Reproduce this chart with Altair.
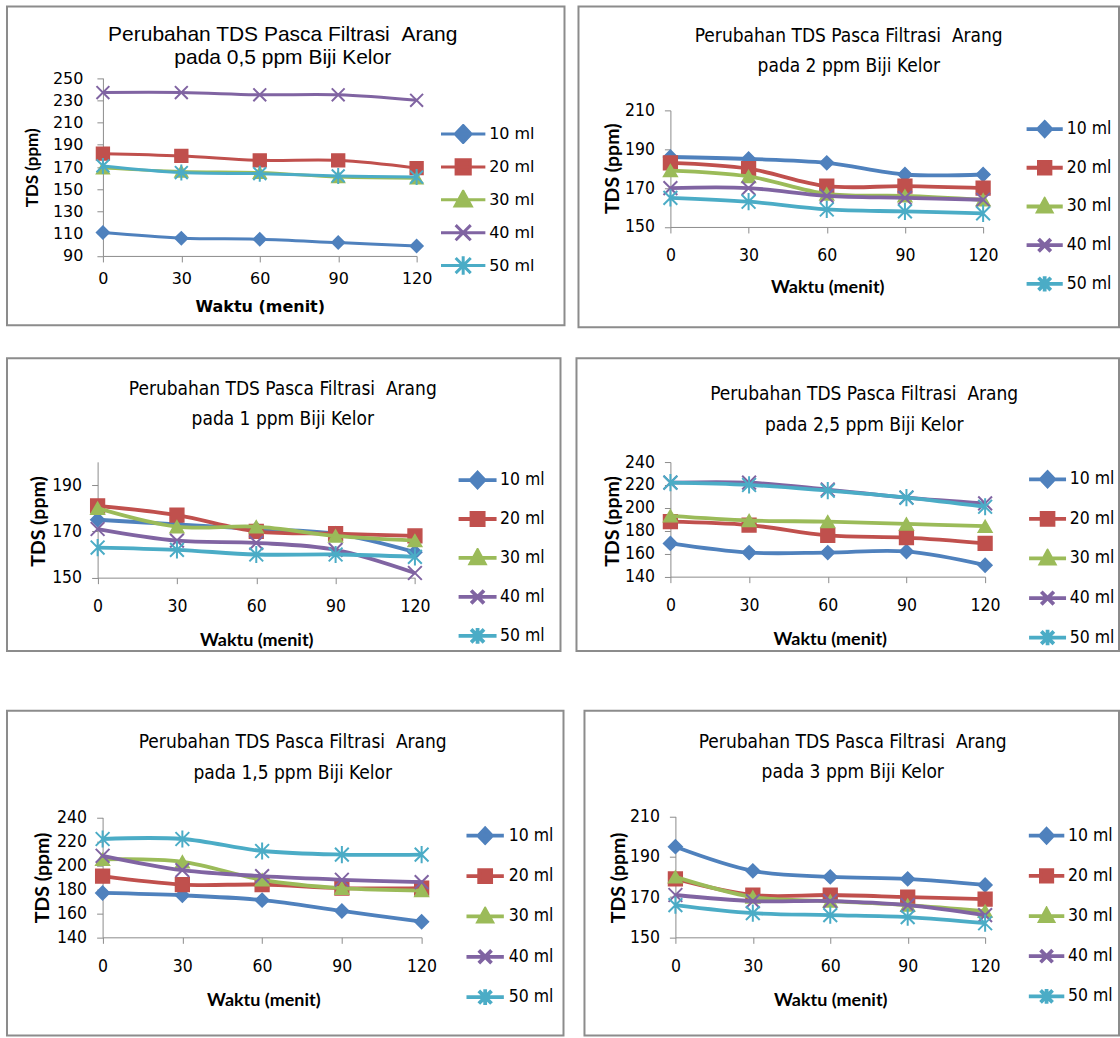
import altair as alt
import pandas as pd

# ---------------- data ----------------
waktu = [0, 30, 60, 90, 120]
seri = ["10 ml", "20 ml", "30 ml", "40 ml", "50 ml"]
warna = ["#4F81BD", "#C0504D", "#9BBB59", "#8064A2", "#4BACC6"]

judul_atas = "Perubahan TDS Pasca Filtrasi \u00a0Arang"
judul_bawah = ["pada 0,5 ppm Biji Kelor", "pada 2 ppm Biji Kelor", "pada 1 ppm Biji Kelor",
               "pada 2,5 ppm Biji Kelor", "pada 1,5 ppm Biji Kelor", "pada 3 ppm Biji Kelor"]

# 0,5 ppm
p05_10 = [111, 106, 105, 102, 99]
p05_20 = [182, 180, 176, 176, 169]
p05_30 = [169, 166, 165, 161, 160]
p05_40 = [237, 237, 235, 235, 230]
p05_50 = [171, 165, 164, 162, 161]
# 2 ppm
p2_10 = [186, 185, 183, 177, 177]
p2_20 = [183, 180, 171, 171, 170]
p2_30 = [179, 176, 167, 166, 164]
p2_40 = [170, 170, 166, 165, 164]
p2_50 = [165, 163, 159, 158, 157]
# 1 ppm
p1_10 = [175, 173, 171, 169, 161]
p1_20 = [181, 177, 170, 169, 168]
p1_30 = [180, 172, 172, 168, 166]
p1_40 = [171, 166, 165, 162, 152]
p1_50 = [163, 162, 160, 160, 159]
# 2,5 ppm
p25_10 = [169, 161, 161, 162, 150]
p25_20 = [188, 185, 176, 174, 169]
p25_30 = [193, 189, 188, 186, 184]
p25_40 = [222, 222, 216, 209, 204]
p25_50 = [222, 220, 215, 209, 201]
# 1,5 ppm
p15_10 = [177, 175, 171, 162, 153]
p15_20 = [191, 184, 184, 181, 181]
p15_30 = [205, 203, 188, 181, 179]
p15_40 = [208, 196, 191, 188, 186]
p15_50 = [222, 222, 212, 209, 209]
# 3 ppm
p3_10 = [195, 183, 180, 179, 176]
p3_20 = [179, 171, 171, 170, 169]
p3_30 = [180, 170, 168, 166, 163]
p3_40 = [171, 168, 168, 166, 161]
p3_50 = [166, 162, 161, 160, 157]

y_dom = [[90, 250], [150, 210], [150, 200], [140, 240], [140, 240], [150, 210]]
y_ticks = [list(range(90, 251, 20)), [150, 170, 190, 210], [150, 170, 190],
           list(range(140, 241, 20)), list(range(140, 241, 20)), [150, 170, 190, 210]]

# ---------------- styling ----------------
COND = "DejaVu Sans Condensed, Liberation Sans Narrow, Liberation Sans"
marker = ["diamond", "square", "triangle-up",
          "M-1,-1L1,1M-1,1L1,-1",
          "M-1,-1L1,1M-1,1L1,-1M0,-1.25L0,1.25"]
marker_filled = [True, True, True, False, False]
leg_path = ["M-1,0L1,0M0,-0.38L0.36,0L0,0.38L-0.36,0Z",
            "M-1,0L1,0M-0.32,-0.32L0.32,-0.32L0.32,0.32L-0.32,0.32Z",
            "M-1,0L1,0M0,-0.38L0.36,0.28L-0.36,0.28Z",
            "M-1,0L1,0M-0.34,-0.34L0.34,0.34M-0.34,0.34L0.34,-0.34",
            "M-1,0L1,0M-0.34,-0.34L0.34,0.34M-0.34,0.34L0.34,-0.34M0,-0.42L0,0.42"]

GRAY = "#8c8c8c"

# layout (all relative to each panel's top-left corner)
layouts = [
    dict(w=558, h=319, ax=96, x1=410, yb=249.7, yt=71.7, xt=(253, 50.3), yt_=(-70, 161),
         xl=23.3, ylp=14, t1=30, lh=23.3, tdx=-3, lx=432.6, L=44.4, lo=2, r1=127.7, rs=32.9),
    dict(w=541, h=321, ax=92, x1=405, yb=220.7, yt=104, xt=(249, 61), yt_=(-57.5, 162),
         xl=29.3, ylp=10, t1=31.7, lh=30, tdx=0, lx=446.6, L=36.2, lo=2, r1=122.7, rs=38.75),
    dict(w=554, h=293, ax=90.7, x1=408.3, yb=219.7, yt=103.8, xt=(249.5, 63.3), yt_=(-58.7, 163),
         xl=30, ylp=10, t1=33, lh=30, tdx=-1, lx=450, L=38, lo=1.5, r1=122, rs=39),
    dict(w=543, h=293, ax=94, x1=409, yb=218.7, yt=104, xt=(253.5, 62.6), yt_=(-57.5, 163),
         xl=29.3, ylp=10, t1=38, lh=31.7, tdx=16.5, lx=451, L=37, lo=1.6, r1=121.3, rs=39.6),
    dict(w=557, h=325, ax=95.7, x1=415, yb=226.7, yt=106.7, xt=(256.6, 63.3), yt_=(-59.7, 166.7),
         xl=30, ylp=10, t1=33.3, lh=31.7, tdx=7.5, lx=457.6, L=37.4, lo=2.6, r1=125, rs=40.4),
    dict(w=535, h=325, ax=91, x1=401, yb=226.7, yt=105.7, xt=(246, 63.3), yt_=(-57, 166.7),
         xl=30, ylp=10, t1=33.3, lh=30, tdx=1, lx=442.5, L=35.5, lo=1.4, r1=125, rs=40.2),
]

style_wide = dict(tfont="Liberation Sans", tsize=21, kfont="DejaVu Sans", ksize=16,
                  lfont="DejaVu Sans", lsize=16, xfont="DejaVu Sans", xsize=16,
                  yfont="Lato", ysize=17, lw=3, msize=165)
style_narrow = dict(tfont=COND, tsize=19, kfont=COND, ksize=17.5,
                    lfont=COND, lsize=17.5, xfont="Lato", xsize=18,
                    yfont="Lato", ysize=19.5, lw=3.8, msize=190)

CLIP = 20


def make_panel(series_values, idx, lay, st):
    rows = []
    for s, vals in zip(seri, series_values):
        for t, v in zip(waktu, vals):
            rows.append({"Waktu": t, "TDS": v, "Seri": s})
    df = pd.DataFrame(rows)
    base = alt.Chart(df)

    xenc = alt.X(
        "Waktu:Q",
        scale=alt.Scale(domain=[0, 120], range=[lay["ax"], lay["x1"]], nice=False, zero=False),
        axis=alt.Axis(
            orient="bottom", offset=-(lay["h"] - lay["yb"]), values=waktu, format="d",
            grid=False, domainColor=GRAY, domainWidth=1, tickColor=GRAY, tickSize=6, tickWidth=1,
            labelFont=st["kfont"], labelFontSize=st["ksize"], labelColor="black",
            labelPadding=lay["xl"] - 6 - 0.55 * st["ksize"], labelFlush=False, labelOverlap=False,
            title="Waktu (menit)", titleFont=st["xfont"], titleFontSize=st["xsize"],
            titleFontWeight="bold", titleColor="black", titleX=lay["xt"][0], titleY=lay["xt"][1],
            titleAlign="center", titleBaseline="middle",
        ),
    )
    yenc = alt.Y(
        "TDS:Q",
        scale=alt.Scale(domain=y_dom[idx], range=[lay["yb"], lay["yt"]], nice=False, zero=False),
        axis=alt.Axis(
            orient="left", offset=-lay["ax"], values=y_ticks[idx], format="d",
            grid=False, domainColor=GRAY, domainWidth=1, tickColor=GRAY, tickSize=6, tickWidth=1,
            labelFont=st["kfont"], labelFontSize=st["ksize"], labelColor="black",
            labelPadding=lay["ylp"], labelFlush=False, labelOverlap=False,
            title="TDS (ppm)", titleFont=st["yfont"], titleFontSize=st["ysize"],
            titleFontWeight="bold", titleColor="black", titleAngle=270,
            titleX=lay["yt_"][0], titleY=lay["yt_"][1], titleAlign="center", titleBaseline="middle",
        ),
    )

    layers = []
    for i, s in enumerate(seri):
        sub = base.transform_filter(alt.datum.Seri == s)
        layers.append(
            sub.mark_line(color=warna[i], strokeWidth=st["lw"], interpolate="cardinal")
            .encode(x=xenc, y=yenc)
        )
        if marker_filled[i]:
            pt = sub.mark_point(shape=marker[i], filled=True, fill=warna[i], stroke=warna[i],
                                strokeWidth=1.5, size=st["msize"], opacity=1)
        else:
            pt = sub.mark_point(shape=marker[i], filled=False, stroke=warna[i],
                                strokeWidth=2, size=st["msize"], opacity=1)
        layers.append(pt.encode(x=xenc, y=yenc))

    leg = alt.Legend(
        orient="none", legendX=lay["lx"], legendY=lay["r1"] - CLIP / 2, title=None,
        symbolSize=lay["L"] ** 2, symbolStrokeWidth=st["lw"], symbolOpacity=1,
        labelFont=st["lfont"], labelFontSize=st["lsize"], labelColor="black",
        labelOffset=lay["lo"], clipHeight=CLIP, rowPadding=lay["rs"] - CLIP,
        padding=0, offset=0, labelLimit=300,
    )
    legend_layer = base.transform_filter("datum.TDS < 0").mark_point(filled=True, opacity=1).encode(
        x=xenc, y=yenc,
        fill=alt.Fill("Seri:N", scale=alt.Scale(domain=seri, range=warna), legend=leg),
        stroke=alt.Stroke("Seri:N", scale=alt.Scale(domain=seri, range=warna), legend=leg),
        shape=alt.Shape("Seri:N", scale=alt.Scale(domain=seri, range=leg_path), legend=leg),
    )
    layers.append(legend_layer)

    fs = st["tsize"]
    off = -(lay["t1"] - 0.55 * fs + lay["lh"] + fs - 1)
    return alt.layer(*layers).properties(
        width=lay["w"], height=lay["h"],
        title=alt.TitleParams(
            text=[judul_atas, judul_bawah[idx]], font=st["tfont"], fontSize=fs,
            fontWeight="normal", color="black", anchor="middle", offset=off,
            lineHeight=lay["lh"], dx=lay["tdx"],
        ),
    )


all_values = [
    [p05_10, p05_20, p05_30, p05_40, p05_50],
    [p2_10, p2_20, p2_30, p2_40, p2_50],
    [p1_10, p1_20, p1_30, p1_40, p1_50],
    [p25_10, p25_20, p25_30, p25_40, p25_50],
    [p15_10, p15_20, p15_30, p15_40, p15_50],
    [p3_10, p3_20, p3_30, p3_40, p3_50],
]

panels = []
for k in range(6):
    st = style_wide if k == 0 else style_narrow
    panels.append(make_panel(all_values[k], k, layouts[k], st))

RES = dict(fill="independent", stroke="independent", shape="independent")


def indep(c):
    return c.resolve_scale(**RES).resolve_legend(**RES)


row1 = indep(alt.hconcat(panels[0], panels[1], spacing=12))
row2 = indep(alt.hconcat(panels[2], panels[3], spacing=14))
row3 = indep(alt.hconcat(panels[4], panels[5], spacing=19))
top = indep(alt.vconcat(row1, row2, spacing=29))
chart = indep(alt.vconcat(top, row3, spacing=58)).properties(
    padding={"left": 6, "top": 5, "right": 0, "bottom": 0},
    background="white",
).configure_view(stroke=GRAY, strokeWidth=2)

chart.save("out.html", embed_options={"renderer": "svg", "actions": False})
